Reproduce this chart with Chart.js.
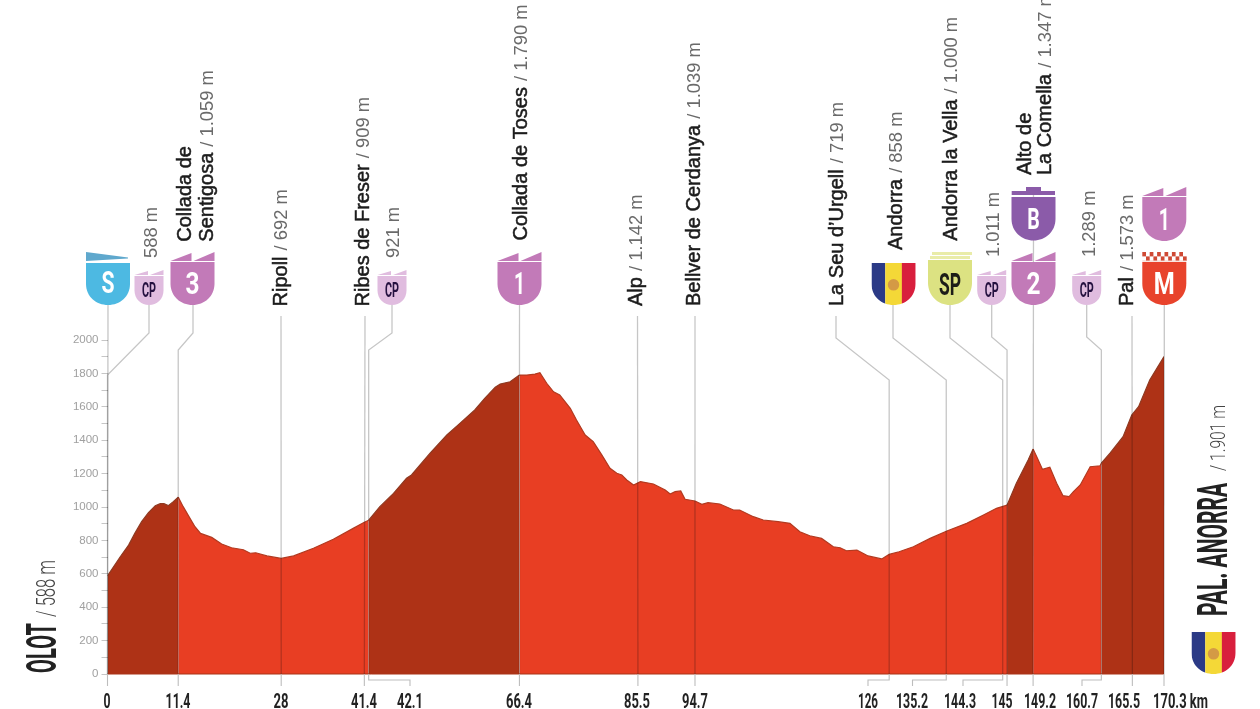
<!DOCTYPE html>
<html><head><meta charset="utf-8">
<style>html,body{margin:0;padding:0;background:#fff}canvas{display:block}</style>
<script src="https://cdn.jsdelivr.net/npm/chart.js@4/dist/chart.umd.min.js"></script>
</head><body><canvas id="c" width="1260" height="709" style="width:1260px;height:709px"></canvas>
<script>
// ---------- data ----------
const profileKm = [0,2,3.4,4.4,5.5,6.6,7.7,8.5,9.1,9.8,10.6,11.4,12.2,13.3,14.1,15,16.8,18.4,20,21.9,23,23.9,25.7,28,30,33.2,36.4,39.6,41.4,42.1,43.9,46.1,48.2,49,52,54.7,56.8,59.2,60.8,62.5,63.3,64.9,66.4,67.6,68.9,69.7,70.8,71.9,72.9,74.6,75.6,77,78.3,79.7,81,82.1,82.9,83.7,84.8,85.9,88,89.9,90.7,91.5,92.4,93.1,94.7,95.8,96.8,98.7,100.9,101.9,104.1,105.7,108.1,110,111.6,113.2,115.1,117,118.1,119.1,120.8,122.6,124.8,126,127.6,129.9,132.6,135.3,138.5,141.2,143.3,145,146.5,148.4,149.2,149.9,150.7,151.9,153,154,155,155.7,156.8,158.4,160,160.2,161.6,163.7,165.1,166.2,168,170.3];
const profileM = [588,699,772,842,912,966,1008,1020,1020,1008,1032,1059,1002,932,882,842,818,778,756,744,723,726,707,692,707,753,807,872,909,921,1002,1082,1172,1192,1322,1431,1501,1581,1651,1717,1736,1750,1790,1790,1796,1804,1741,1690,1671,1591,1521,1431,1391,1311,1232,1202,1192,1162,1132,1152,1138,1102,1078,1092,1096,1046,1036,1016,1026,1018,982,982,942,922,912,902,852,828,812,762,756,738,742,707,689,716,732,762,812,856,902,952,992,1011,1142,1281,1347,1292,1226,1238,1142,1068,1062,1092,1132,1241,1247,1262,1322,1421,1551,1601,1760,1901];
const climbStartKm = [0,42.1,145,160.2];
const climbEndKm = [11.4,66.4,149.2,170.3];
const tickKm = [0,11.4,28,41.4,42.1,66.4,85.5,94.7,126,135.2,144.3,145,149.2,160.2,165.2,170.3];
const tickLabels = ['0','11.4','28','41.4','42.1','66.4','85.5','94.7','126','135.2','144.3','145','149.2','160.7','165.5','170.3 km'];
const stopNames = [[],['Collada de','Sentigosa'],['Ripoll'],['Ribes de Freser'],[],['Collada de Toses'],['Alp'],['Bellver de Cerdanya'],['La Seu d’Urgell'],['Andorra'],['Andorra la Vella'],[],['Alto de','La Comella'],[],['Pal']];
const stopElevations = ['588 m','/ 1.059 m','/ 692 m','/ 909 m','921 m','/ 1.790 m','/ 1.142 m','/ 1.039 m','/ 719 m','/ 858 m','/ 1.000 m','1.011 m','/ 1.347 m','1.289 m','/ 1.573 m'];
const startName='OLOT', startElevation='/ 588 m', finishName='PAL. ANORRA', finishElevation='/ 1.901 m';

// ---------- layout of annotations (pixels on the poster, not data) ----------
const stopBase=[[156.7,258],[190.7,241.7],[286.7,306.5],[369,306.5],[399,258],[527.3,240.5],[641.7,306],[700,306],[842.7,306],[901.7,250],[957.3,240.7],[999,257],[1030.7,175],[1094.7,257],[1132.7,306]];
const tickLabelX=[107,178,281,364,410,519,637,695,868,912,960,1002,1040,1082,1124,1180.5];
const tickLabelW=[7,25,15,26,26,26,26,26,20,32,32,21,32,32,32,55];
const offsetTickEnd=[[4,410],[8,868],[9,912.5],[10,963],[13,1082]];
const leaders=[[0,108,305,null],[0,149,305,333,375],[11.4,193,305,333,350],[28,281,316,null],[41.4,365,316,null],[42.1,392,305,333,350],[66.4,519.5,305,null],[85.5,637.5,316,null],[94.7,695,316,null],[126,836,316,338,380],[135.2,893,305,338,380],[144.3,950,305,338,380],[145,991.7,305,337,350],[149.2,1033.5,187,null],[160.2,1086.7,305,337,350],[165.2,1132,316,null],[170.3,1164.3,305,null]];

const SERIF='Roboto', NAME='"Liberation Sans", Arial, sans-serif';
const INK='#1c1c1c', GREY='#6a6a6a';

function vtext(ctx,text,x,y,font,color,len,stroke){
  ctx.save();ctx.translate(x,y);ctx.rotate(-Math.PI/2);ctx.font=font;ctx.fillStyle=color;ctx.textAlign='left';ctx.textBaseline='alphabetic';
  const w=ctx.measureText(text).width;
  if(len)ctx.scale(len/w,1);
  ctx.fillText(text,0,0);
  if(stroke){ctx.strokeStyle=color;ctx.lineWidth=stroke;ctx.strokeText(text,0,0);}
  ctx.restore();return len||w;
}
function shieldPath(ctx,cx,w,t,b){
  const l=cx-w/2,r=cx+w/2,h=b-t;
  ctx.beginPath();ctx.moveTo(l,t);ctx.lineTo(r,t);ctx.lineTo(r,t+h*.5);
  ctx.bezierCurveTo(r,t+h*.8,cx+w*.27,b,cx,b);
  ctx.bezierCurveTo(cx-w*.27,b,l,t+h*.8,l,t+h*.5);ctx.closePath();
}
function letter(ctx,txt,cx,yBase,size,len,color){
  ctx.save();ctx.font='700 '+size+'px '+SERIF;ctx.fillStyle=color;ctx.textAlign='center';ctx.textBaseline='alphabetic';
  const w=ctx.measureText(txt).width;ctx.translate(cx,yBase);ctx.scale(len/w,1);ctx.fillText(txt,0,0);ctx.restore();
}
function teeth(ctx,cx,w,y0,y1,color){
  const l=cx-w/2,r=cx+w/2;ctx.fillStyle=color;
  ctx.beginPath();ctx.moveTo(l,y1);ctx.lineTo(cx-1,y0+1);ctx.lineTo(cx-1,y1);ctx.closePath();ctx.fill();
  ctx.beginPath();ctx.moveTo(cx+1,y1);ctx.lineTo(r,y0);ctx.lineTo(r,y1);ctx.closePath();ctx.fill();
}
function climb(ctx,txt,cx,top,b,w,color,tc,size,len){
  const body=top+(w>35?10:6);
  teeth(ctx,cx,w,top,body-1,color);
  ctx.fillStyle=color;shieldPath(ctx,cx,w,body,b);ctx.fill();
  letter(ctx,txt,cx,(body+b)/2+(w>35?10.5:6.5),size,len,tc);
}
function flag(ctx,cx,w,t,b){
  ctx.save();shieldPath(ctx,cx,w,t,b);ctx.clip();
  const l=cx-w/2;
  ctx.fillStyle='#2b3a86';ctx.fillRect(l,t,w/3.2,b-t);
  ctx.fillStyle='#f4d837';ctx.fillRect(l+w/3.2,t,w*.38,b-t);
  ctx.fillStyle='#d81f3d';ctx.fillRect(l+w*.69,t,w*.32,b-t);
  ctx.fillStyle='#d49a45';ctx.beginPath();ctx.arc(cx,t+(b-t)*.52,w*.13,0,7);ctx.fill();
  ctx.restore();
}
const annotate={id:'annotate',
  afterDatasetsDraw(chart){
    const ctx=chart.ctx,X=chart.scales.x,yB=chart.scales.y.getPixelForValue(0);
    ctx.save();ctx.strokeStyle='#a93418';ctx.lineWidth=1;ctx.beginPath();ctx.moveTo(X.getPixelForValue(0),yB);ctx.lineTo(X.getPixelForValue(170.3),yB);ctx.stroke();ctx.restore();
    // leaders, multiplied so they darken over the fill
    ctx.save();ctx.globalCompositeOperation='multiply';ctx.strokeStyle='#c6c6c6';ctx.lineWidth=1.3;
    for(const [km,xt,yt,e1,e2] of leaders){
      const xf=X.getPixelForValue(km);ctx.beginPath();ctx.moveTo(xt,yt);
      if(e1!=null){ctx.lineTo(xt,e1);ctx.lineTo(xf,e2);}
      ctx.lineTo(xf,yB);ctx.stroke();
    }
    ctx.restore();
    // below-axis ticks
    ctx.save();ctx.strokeStyle='#bdbdbd';ctx.lineWidth=1.1;
    tickKm.forEach((km,i)=>{
      const xf=X.getPixelForValue(km),o=offsetTickEnd.find(a=>a[0]===i);
      ctx.beginPath();ctx.moveTo(xf,yB);
      if(o){ctx.lineTo(xf,680);ctx.lineTo(o[1],680);ctx.lineTo(o[1],686);}else{ctx.lineTo(xf,686);}
      ctx.stroke();
    });
    ctx.restore();
    // x tick labels
    ctx.save();ctx.fillStyle='#222';ctx.font='700 21px '+SERIF;ctx.textBaseline='alphabetic';ctx.textAlign='center';
    tickLabels.forEach((t,i)=>{
      ctx.save();const w=ctx.measureText(t).width;ctx.translate(tickLabelX[i],708);ctx.scale(tickLabelW[i]/w,1);ctx.fillText(t,0,0);ctx.restore();
    });
    ctx.restore();
    // stop labels
    stopNames.forEach((lines,i)=>{
      const [x,y]=stopBase[i];const font='20px '+NAME,ef='300 18.4px '+NAME;
      if(lines.length===0){vtext(ctx,stopElevations[i],x,y,ef,GREY);return;}
      if(lines.length===2){
        vtext(ctx,lines[0],x,y,font,INK,null,.5);
        const x2=x+(i===1?22:20);
        const w=vtext(ctx,lines[1],x2,y,font,INK,null,.5);
        vtext(ctx,stopElevations[i],x2,y-w-6,ef,GREY);
      }else{
        const w=vtext(ctx,lines[0],x,y,font,INK,null,.5);
        vtext(ctx,stopElevations[i],x,y-w-6,ef,GREY);
      }
    });
    // badges
    ctx.fillStyle='#4db9e2';shieldPath(ctx,108,44,263,305);ctx.fill();
    ctx.fillStyle='#5fa8cd';ctx.beginPath();ctx.moveTo(86,252);ctx.lineTo(128,257.5);ctx.lineTo(128,258.5);ctx.lineTo(86,261);ctx.closePath();ctx.fill();
    letter(ctx,'S',108,293,31,13,'#fff');
    const P='#c27ab8',C='#e0bcdf',D='#24103f';
    climb(ctx,'CP',149,270,305,29,C,D,21,14);
    climb(ctx,'3',192.5,252,305,44,P,'#fff',31,14);
    climb(ctx,'CP',392,270,305,29,C,D,21,14);
    climb(ctx,'1',519.5,252,305,44,P,'#fff',31,11);
    flag(ctx,893.5,44,263,305);
    // SP
    ctx.fillStyle='#e9eca9';ctx.fillRect(932,252,40,3);ctx.fillRect(930,256,40,3);
    ctx.fillStyle='#dce282';shieldPath(ctx,950,44,260,305);ctx.fill();
    letter(ctx,'SP',950,295,32,22,'#1d1d18');
    climb(ctx,'CP',991.7,270,305,29,C,D,21,14);
    climb(ctx,'2',1033.5,252,305,44,P,'#fff',31,14);
    // B
    ctx.fillStyle='#8b5ba9';ctx.fillRect(1026,187,15,5);ctx.fillRect(1011.7,191,43.3,4);
    shieldPath(ctx,1033.5,44,197,240.5);ctx.fill();
    letter(ctx,'B',1033.5,229,30,12.5,'#fff');
    climb(ctx,'CP',1086.7,270,305,29,C,D,21,14);
    climb(ctx,'1',1164.3,187,241,44,P,'#fff',31,11);
    // M
    ctx.fillStyle='#e8432c';shieldPath(ctx,1164.3,44,262,305);ctx.fill();
    ctx.fillStyle='#cf4a35';for(let r=0;r<2;r++)for(let k=0;k<6;k++){ctx.fillRect(1142.3+(k*2+r%2)*3.7,252+r*4.4,3.7,4.4);}
    ctx.fillStyle='#f0c0b5';ctx.fillRect(1142.3,260.6,44,.8);
    letter(ctx,'M',1164.3,294,31,21,'#fff');
    flag(ctx,1213.5,44,632,674);
    // start / finish
    vtext(ctx,startName,56,673,'700 42px '+SERIF,'#222',50);
    vtext(ctx,startElevation,55,617,'300 25px '+SERIF,'#444',57);
    vtext(ctx,finishName,1227,616,'700 42px '+SERIF,'#222',133);
    vtext(ctx,finishElevation,1225,471,'300 21px '+SERIF,'#444',66);
  }
};
const inClimb=c=>climbStartKm.some((s,i)=>c.p0.parsed.x>=s&&c.p1.parsed.x<=climbEndKm[i]);
new Chart(document.getElementById('c'),{
  type:'line',
  data:{datasets:[{
    data:profileKm.map((x,i)=>({x,y:profileM[i]})),
    fill:'origin',backgroundColor:'#e83e23',borderColor:'#b23a20',borderWidth:1.2,pointRadius:0,tension:0,
    segment:{backgroundColor:c=>inClimb(c)?'#ae3216':undefined,borderColor:c=>inClimb(c)?'#8f3a22':undefined}
  }]},
  options:{
    responsive:false,animation:false,devicePixelRatio:1,
    layout:{autoPadding:false,padding:{top:340,right:96,left:0,bottom:0}},
    plugins:{legend:{display:false},tooltip:{enabled:false},title:{display:false}},
    scales:{
      x:{type:'linear',min:0,max:170.3,
        afterBuildTicks:s=>{s.ticks=tickKm.map(v=>({value:v}));},
        afterFit:s=>{s.height=35;},
        border:{display:false},
        grid:{display:false},
        ticks:{autoSkip:false,callback:()=>'',maxRotation:0,padding:0}},
      y:{type:'linear',min:0,max:2000,
        afterFit:s=>{s.width=107.5;},
        border:{display:false},
        grid:{drawOnChartArea:false,drawTicks:true,tickLength:6,color:'#c6c6c6',lineWidth:1},
        ticks:{stepSize:100,autoSkip:false,padding:3,color:'#a0a0a0',font:{family:'"Liberation Sans"',size:11.5},
          callback:v=>v%200===0?String(v):''}}
    }
  },
  plugins:[annotate]
});
</script></body></html>
